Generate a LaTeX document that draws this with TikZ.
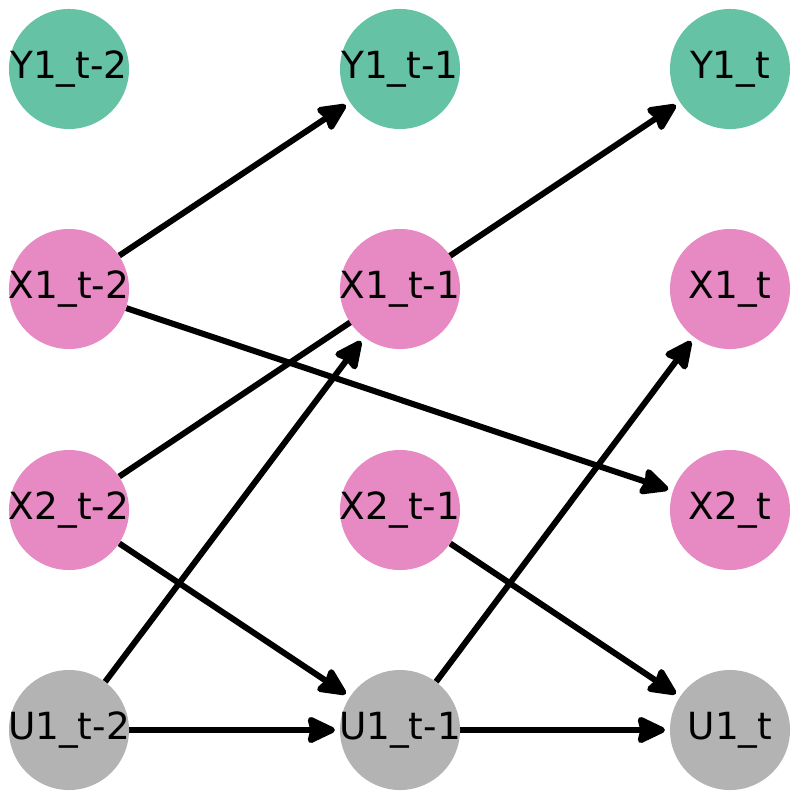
\documentclass[tikz,border=0pt]{standalone}
\usepackage{fontspec}
\setmainfont{DejaVu Sans}
\usetikzlibrary{arrows.meta,backgrounds}
\definecolor{ygreen}{HTML}{66C2A5}
\definecolor{xpink}{HTML}{E78AC3}
\definecolor{ugray}{HTML}{B3B3B3}
\tikzset{
  csucs/.style={circle,minimum size=3cm,inner sep=0pt,font=\fontsize{26.6}{30}\selectfont},
  yallapot/.style={csucs,fill=ygreen},
  xallapot/.style={csucs,fill=xpink},
  uallapot/.style={csucs,fill=ugray},
  el/.style={line width=0.15cm,-{Stealth[length=0.8cm,width=0.74cm,inset=0.08cm,round]},shorten >=0.12cm},
}
\newcommand{\cimke}[1]{\makebox[0pt]{#1}}

\begin{document}
\begin{tikzpicture}[x=0.025cm,y=-0.025cm]
  \useasboundingbox (0,0) rectangle (800,800);
  % t-2
  \node[yallapot] (Y1a) at (69,69) {\cimke{Y1\_t-2}};
  \node[xallapot] (X1a) at (69,289) {\cimke{X1\_t-2}};
  \node[xallapot] (X2a) at (69,510) {\cimke{X2\_t-2}};
  \node[uallapot] (U1a) at (69,730) {\cimke{U1\_t-2}};
  % t-1
  \node[yallapot] (Y1b) at (400,69) {\cimke{Y1\_t-1}};
  \node[xallapot] (X1b) at (400,289) {\cimke{X1\_t-1}};
  \node[xallapot] (X2b) at (400,510) {\cimke{X2\_t-1}};
  \node[uallapot] (U1b) at (400,730) {\cimke{U1\_t-1}};
  % t
  \node[yallapot] (Y1c) at (730,69) {\cimke{Y1\_t}};
  \node[xallapot] (X1c) at (730,289) {\cimke{X1\_t}};
  \node[xallapot] (X2c) at (730,510) {\cimke{X2\_t}};
  \node[uallapot] (U1c) at (730,730) {\cimke{U1\_t}};
  \begin{scope}[on background layer]
    \draw[el] (X1a) -- (Y1b);
    \draw[el] (X2a) -- (Y1c);
    \draw[el] (X1a) -- (X2c);
    \draw[el] (X2a) -- (U1b);
    \draw[el] (U1a) -- (X1b);
    \draw[el] (U1a) -- (U1b);
    \draw[el] (U1b) -- (X1c);
    \draw[el] (U1b) -- (U1c);
    \draw[el] (X2b) -- (U1c);
  \end{scope}
\end{tikzpicture}
\end{document}
